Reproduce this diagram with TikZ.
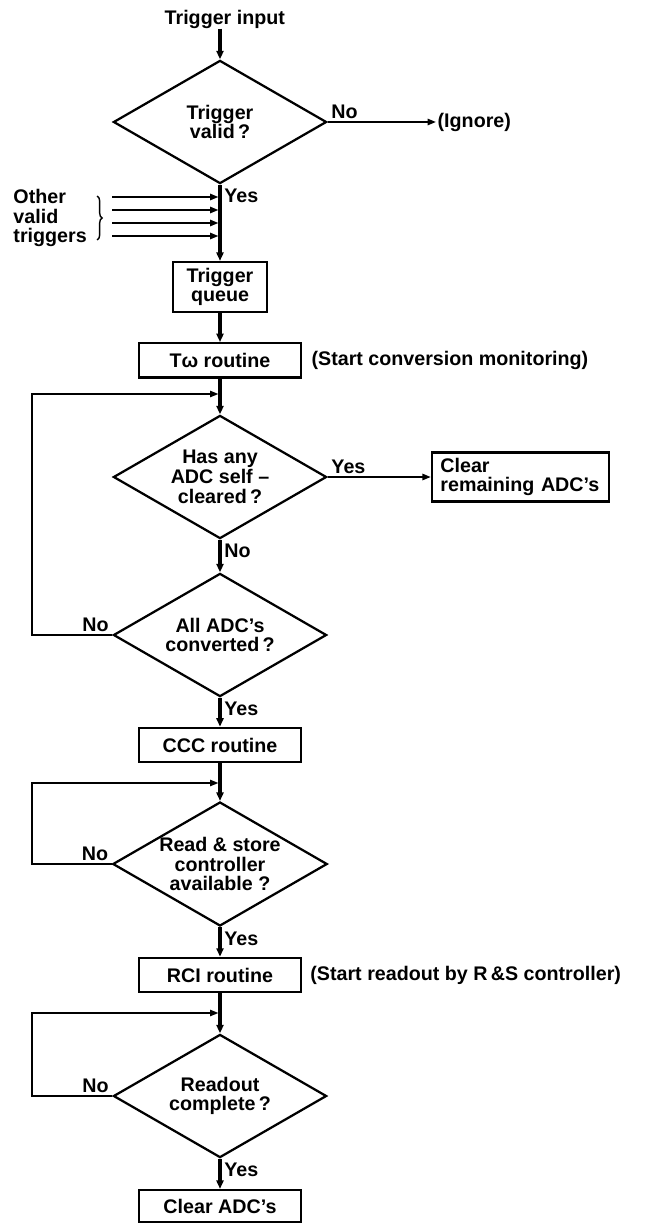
\documentclass[tikz,border=0pt]{standalone}
\usepackage{fontspec}
\setmainfont{Liberation Sans}
\usepackage{tikz}
\usetikzlibrary{shapes.geometric, arrows.meta, positioning, decorations.pathreplacing}
\newcommand{\flowfont}{\fontsize{14}{14}\selectfont\bfseries}
\tikzset{
  dec/.style={diamond, draw, line width=1.6pt, aspect=1.73, inner sep=0pt,
              minimum width=5.33cm, minimum height=3.08cm, align=center, font=\flowfont},
  proc/.style={rectangle, draw, line width=1.6pt, minimum width=4.05cm,
               minimum height=0.86cm, align=center, font=\flowfont},
  flow/.style={-{Triangle[length=6pt,width=5pt]}, line width=2.2pt},
  trig/.style={-{Triangle[length=6pt,width=4.5pt]}, line width=1.3pt, shorten >=1.1pt},
  back/.style={-{Triangle[length=6pt,width=4.5pt]}, line width=1.1pt, shorten >=1.1pt},
  lbl/.style={font=\flowfont, inner sep=2pt},
  note/.style={font=\flowfont, inner sep=0pt},
}
\newcommand{\retloop}[2]{\draw[back] (#1.west) -- node[lbl,pos=0,anchor=south east]{No} (#1.west -| 0.8,0) |- (#2);}

\begin{document}
\begin{tikzpicture}
\useasboundingbox (0,0) rectangle (16.3,-30.575);
\node[note] (input) at (5.62,-0.48) {Trigger input};
\node[dec] (d1) at (5.5,-3.05) {Trigger\\valid\,?};
\node[note, anchor=west, inner sep=1pt] (ign) at (10.9,-3.05) {(Ignore)};
\node[note, align=left, anchor=west] (other) at (0.33,-5.45) {Other\\valid\\triggers};
\draw[decorate, decoration={brace, amplitude=3.5pt}, line width=1pt] (2.43,-4.9) -- (2.43,-6.0);
\node[proc, minimum width=2.35cm, minimum height=1.25cm] (queue) at (5.5,-7.175) {Trigger\\queue};
\node[proc] (tw) at (5.5,-9.01) {Tω routine};
\node[note, right=0.23cm of tw] (twnote) {(Start conversion monitoring)};
\coordinate (j1) at (5.5,-9.85);
\node[dec] (d2) at (5.5,-11.925) {Has any\\ADC self --\\cleared\,?};
\node[proc, align=left, minimum width=4.425cm, minimum height=1.225cm, text width=4.0cm,
      inner xsep=0.2cm] (rem) at (13.01,-11.925) {Clear\\remaining ADC's};
\node[dec] (d3) at (5.5,-15.875) {All ADC's\\converted\,?};
\node[proc] (ccc) at (5.5,-18.625) {CCC routine};
\coordinate (j2) at (5.5,-19.575);
\node[dec] (d4) at (5.5,-21.6) {Read \& store\\controller\\available ?};
\node[proc] (rci) at (5.5,-24.375) {RCI routine};
\node[note, right=0.2cm of rci] (rcinote) {(Start readout by R\,\&S controller)};
\coordinate (j3) at (5.5,-25.325);
\node[dec] (d5) at (5.5,-27.4) {Readout\\complete\,?};
\node[proc, minimum height=0.8cm] (clr) at (5.5,-30.15) {Clear ADC's};
% main flow
\draw[flow] (input.south -| d1.north) -- (d1.north);
\draw[trig, shorten >=0pt] (d1) -- node[lbl,pos=0,anchor=south west]{No} (ign);
\draw[flow] (d1) -- node[lbl,pos=0,anchor=north west]{Yes} (queue);
\foreach \y [count=\i] in {-4.925,-5.25,-5.575,-5.9} {
  \coordinate (t\i) at (2.8,\y);
  \draw[trig] (t\i) -- (t\i -| d1.south);
}
\draw[flow] (queue) -- (tw);
\draw[flow] (tw) -- (d2);
\draw[trig, shorten >=0pt] (d2) -- node[lbl,pos=0,anchor=south west]{Yes} (rem);
\draw[flow] (d2) -- node[lbl,pos=0,anchor=north west]{No} (d3);
\draw[flow] (d3) -- node[lbl,pos=0,anchor=north west]{Yes} (ccc);
\draw[flow] (ccc) -- (d4);
\draw[flow] (d4) -- node[lbl,pos=0,anchor=north west]{Yes} (rci);
\draw[flow] (rci) -- (d5);
\draw[flow] (d5) -- node[lbl,pos=0,anchor=north west]{Yes} (clr);
% waiting loops
\retloop{d3}{j1}
\retloop{d4}{j2}
\retloop{d5}{j3}
\end{tikzpicture}
\end{document}
